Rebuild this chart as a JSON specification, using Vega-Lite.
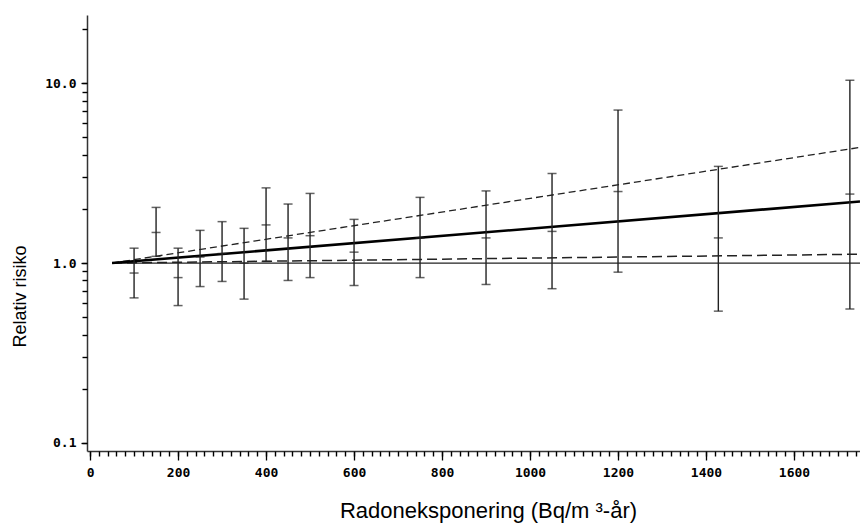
{
  "$schema": "https://vega.github.io/schema/vega-lite/v6.json",
  "width": 773,
  "height": 436,
  "autosize": {"type": "none"},
  "padding": {"left": 87, "top": 15, "right": 0, "bottom": 72},
  "background": "white",
  "config": {"view": {"stroke": null}, "axis": {"labelOverlap": false, "labelFlush": false, "grid": false}},
  "datasets": {
    "points": [
      {"x": 100, "rr": 0.88, "lo": 0.64, "hi": 1.21},
      {"x": 150, "rr": 1.48, "lo": 1.09, "hi": 2.04},
      {"x": 200, "rr": 0.83, "lo": 0.58, "hi": 1.21},
      {"x": 250, "rr": 1.08, "lo": 0.74, "hi": 1.52},
      {"x": 300, "rr": 1.13, "lo": 0.79, "hi": 1.70},
      {"x": 350, "rr": 1.0, "lo": 0.63, "hi": 1.56},
      {"x": 400, "rr": 1.63, "lo": 1.02, "hi": 2.62},
      {"x": 450, "rr": 1.38, "lo": 0.80, "hi": 2.13},
      {"x": 500, "rr": 1.42, "lo": 0.83, "hi": 2.44},
      {"x": 600, "rr": 1.15, "lo": 0.75, "hi": 1.75},
      {"x": 750, "rr": 1.38, "lo": 0.83, "hi": 2.32},
      {"x": 900, "rr": 1.38, "lo": 0.76, "hi": 2.52},
      {"x": 1050, "rr": 1.50, "lo": 0.72, "hi": 3.15},
      {"x": 1200, "rr": 2.50, "lo": 0.89, "hi": 7.1},
      {"x": 1428, "rr": 1.38, "lo": 0.54, "hi": 3.45},
      {"x": 1727, "rr": 2.42, "lo": 0.555, "hi": 10.4}
    ],
    "lines": [
      {"model": "err", "x": 50, "val": 1.0},
      {"model": "err", "x": 1750, "val": 2.2},
      {"model": "upper", "x": 50, "val": 1.0},
      {"model": "upper", "x": 1750, "val": 4.4},
      {"model": "lower", "x": 50, "val": 1.0},
      {"model": "lower", "x": 1750, "val": 1.12},
      {"model": "null", "x": 50, "val": 1.0},
      {"model": "null", "x": 1750, "val": 1.0}
    ]
  },
  "resolve": {"axis": {"x": "independent", "y": "independent"}},
  "layer": [
    {
      "encoding": {
        "x": {
          "field": "x", "type": "quantitative",
          "scale": {"domain": [-7, 1750], "nice": false, "zero": false},
          "axis": {
            "orient": "bottom",
            "title": "Radoneksponering (Bq/m ³-år)",
            "values": [0, 200, 400, 600, 800, 1000, 1200, 1400, 1600],
            "format": "d",
            "labelOverlap": false,
            "labelFlush": false,
            "labelFont": "DejaVu Sans Mono",
            "labelFontWeight": "bold",
            "labelFontSize": 13,
            "labelColor": "black",
            "labelPadding": 6,
            "tickSize": 9,
            "tickColor": "black",
            "tickWidth": 1.3,
            "domainColor": "#333",
            "domainWidth": 1.5,
            "grid": false,
            "titleFont": "Liberation Sans",
            "titleFontSize": 22,
            "titleFontWeight": "normal",
            "titleColor": "black",
            "titleX": 401,
            "titleY": 59,
            "titleAlign": "center",
            "titleBaseline": "middle"
          }
        },
        "y": {
          "field": "val", "type": "quantitative",
          "scale": {"type": "log", "domain": [0.09, 24], "nice": false},
          "axis": {
            "orient": "left",
            "title": "Relativ risiko",
            "values": [0.1, 1, 10],
            "format": ".1f",
            "labelOverlap": false,
            "labelFlush": false,
            "labelFont": "DejaVu Sans Mono",
            "labelFontWeight": "bold",
            "labelFontSize": 13,
            "labelColor": "black",
            "labelPadding": 5,
            "tickSize": 6,
            "tickColor": "black",
            "tickWidth": 1.3,
            "domainColor": "#333",
            "domainWidth": 1.5,
            "grid": false,
            "titleFont": "Liberation Sans",
            "titleFontSize": 18,
            "titleFontWeight": "normal",
            "titleColor": "black",
            "titleX": -67,
            "titleY": 281,
            "titleAngle": -90,
            "titleAlign": "center",
            "titleBaseline": "middle"
          }
        }
      },
      "layer": [
        {
          "data": {"name": "lines"},
          "transform": [{"filter": "datum.model === 'null'"}],
          "mark": {"type": "line", "color": "#222", "strokeWidth": 1.2}
        },
        {
          "data": {"name": "lines"},
          "transform": [{"filter": "datum.model === 'lower'"}],
          "mark": {"type": "line", "color": "#222", "strokeWidth": 1.5, "strokeDash": [10, 5]}
        },
        {
          "data": {"name": "lines"},
          "transform": [{"filter": "datum.model === 'upper'"}],
          "mark": {"type": "line", "color": "#222", "strokeWidth": 1.3, "strokeDash": [7, 4]}
        },
        {
          "data": {"name": "lines"},
          "transform": [{"filter": "datum.model === 'err'"}],
          "mark": {"type": "line", "color": "black", "strokeWidth": 2.6}
        },
        {
          "data": {"name": "points"},
          "transform": [{"fold": ["lo", "hi"], "as": ["kind", "val"]}],
          "mark": {"type": "line", "color": "#222", "strokeWidth": 1.4},
          "encoding": {"detail": {"field": "x", "type": "nominal"}}
        }
      ]
    },
    {
      "data": {"name": "points"},
      "transform": [{"fold": ["lo", "rr", "hi"], "as": ["kind", "val"]}],
      "mark": {"type": "tick", "orient": "horizontal", "color": "#222", "size": 9, "thickness": 1.5},
      "encoding": {
        "x": {
          "field": "x", "type": "quantitative",
          "scale": {"domain": [-7, 1750], "nice": false, "zero": false},
          "axis": {
            "orient": "bottom",
            "title": null,
            "labels": false,
            "domain": false,
            "grid": false,
            "values": [0,20,40,60,80,100,120,140,160,180,200,220,240,260,280,300,320,340,360,380,400,420,440,460,480,500,520,540,560,580,600,620,640,660,680,700,720,740,760,780,800,820,840,860,880,900,920,940,960,980,1000,1020,1040,1060,1080,1100,1120,1140,1160,1180,1200,1220,1240,1260,1280,1300,1320,1340,1360,1380,1400,1420,1440,1460,1480,1500,1520,1540,1560,1580,1600,1620,1640,1660,1680,1700,1720,1740],
            "tickCount": 200,
            "tickSize": 5,
            "tickColor": "black",
            "tickWidth": 1.4
          }
        },
        "y": {
          "field": "val", "type": "quantitative",
          "scale": {"type": "log", "domain": [0.09, 24], "nice": false},
          "axis": {
            "orient": "left",
            "title": null,
            "labels": false,
            "domain": false,
            "grid": false,
            "values": [0.1,0.2,0.3,0.4,0.5,0.6,0.7,0.8,0.9,1,2,3,4,5,6,7,8,9,10,20],
            "tickCount": 50,
            "tickSize": 5,
            "tickColor": "black",
            "tickWidth": 1.4
          }
        }
      }
    }
  ]
}
